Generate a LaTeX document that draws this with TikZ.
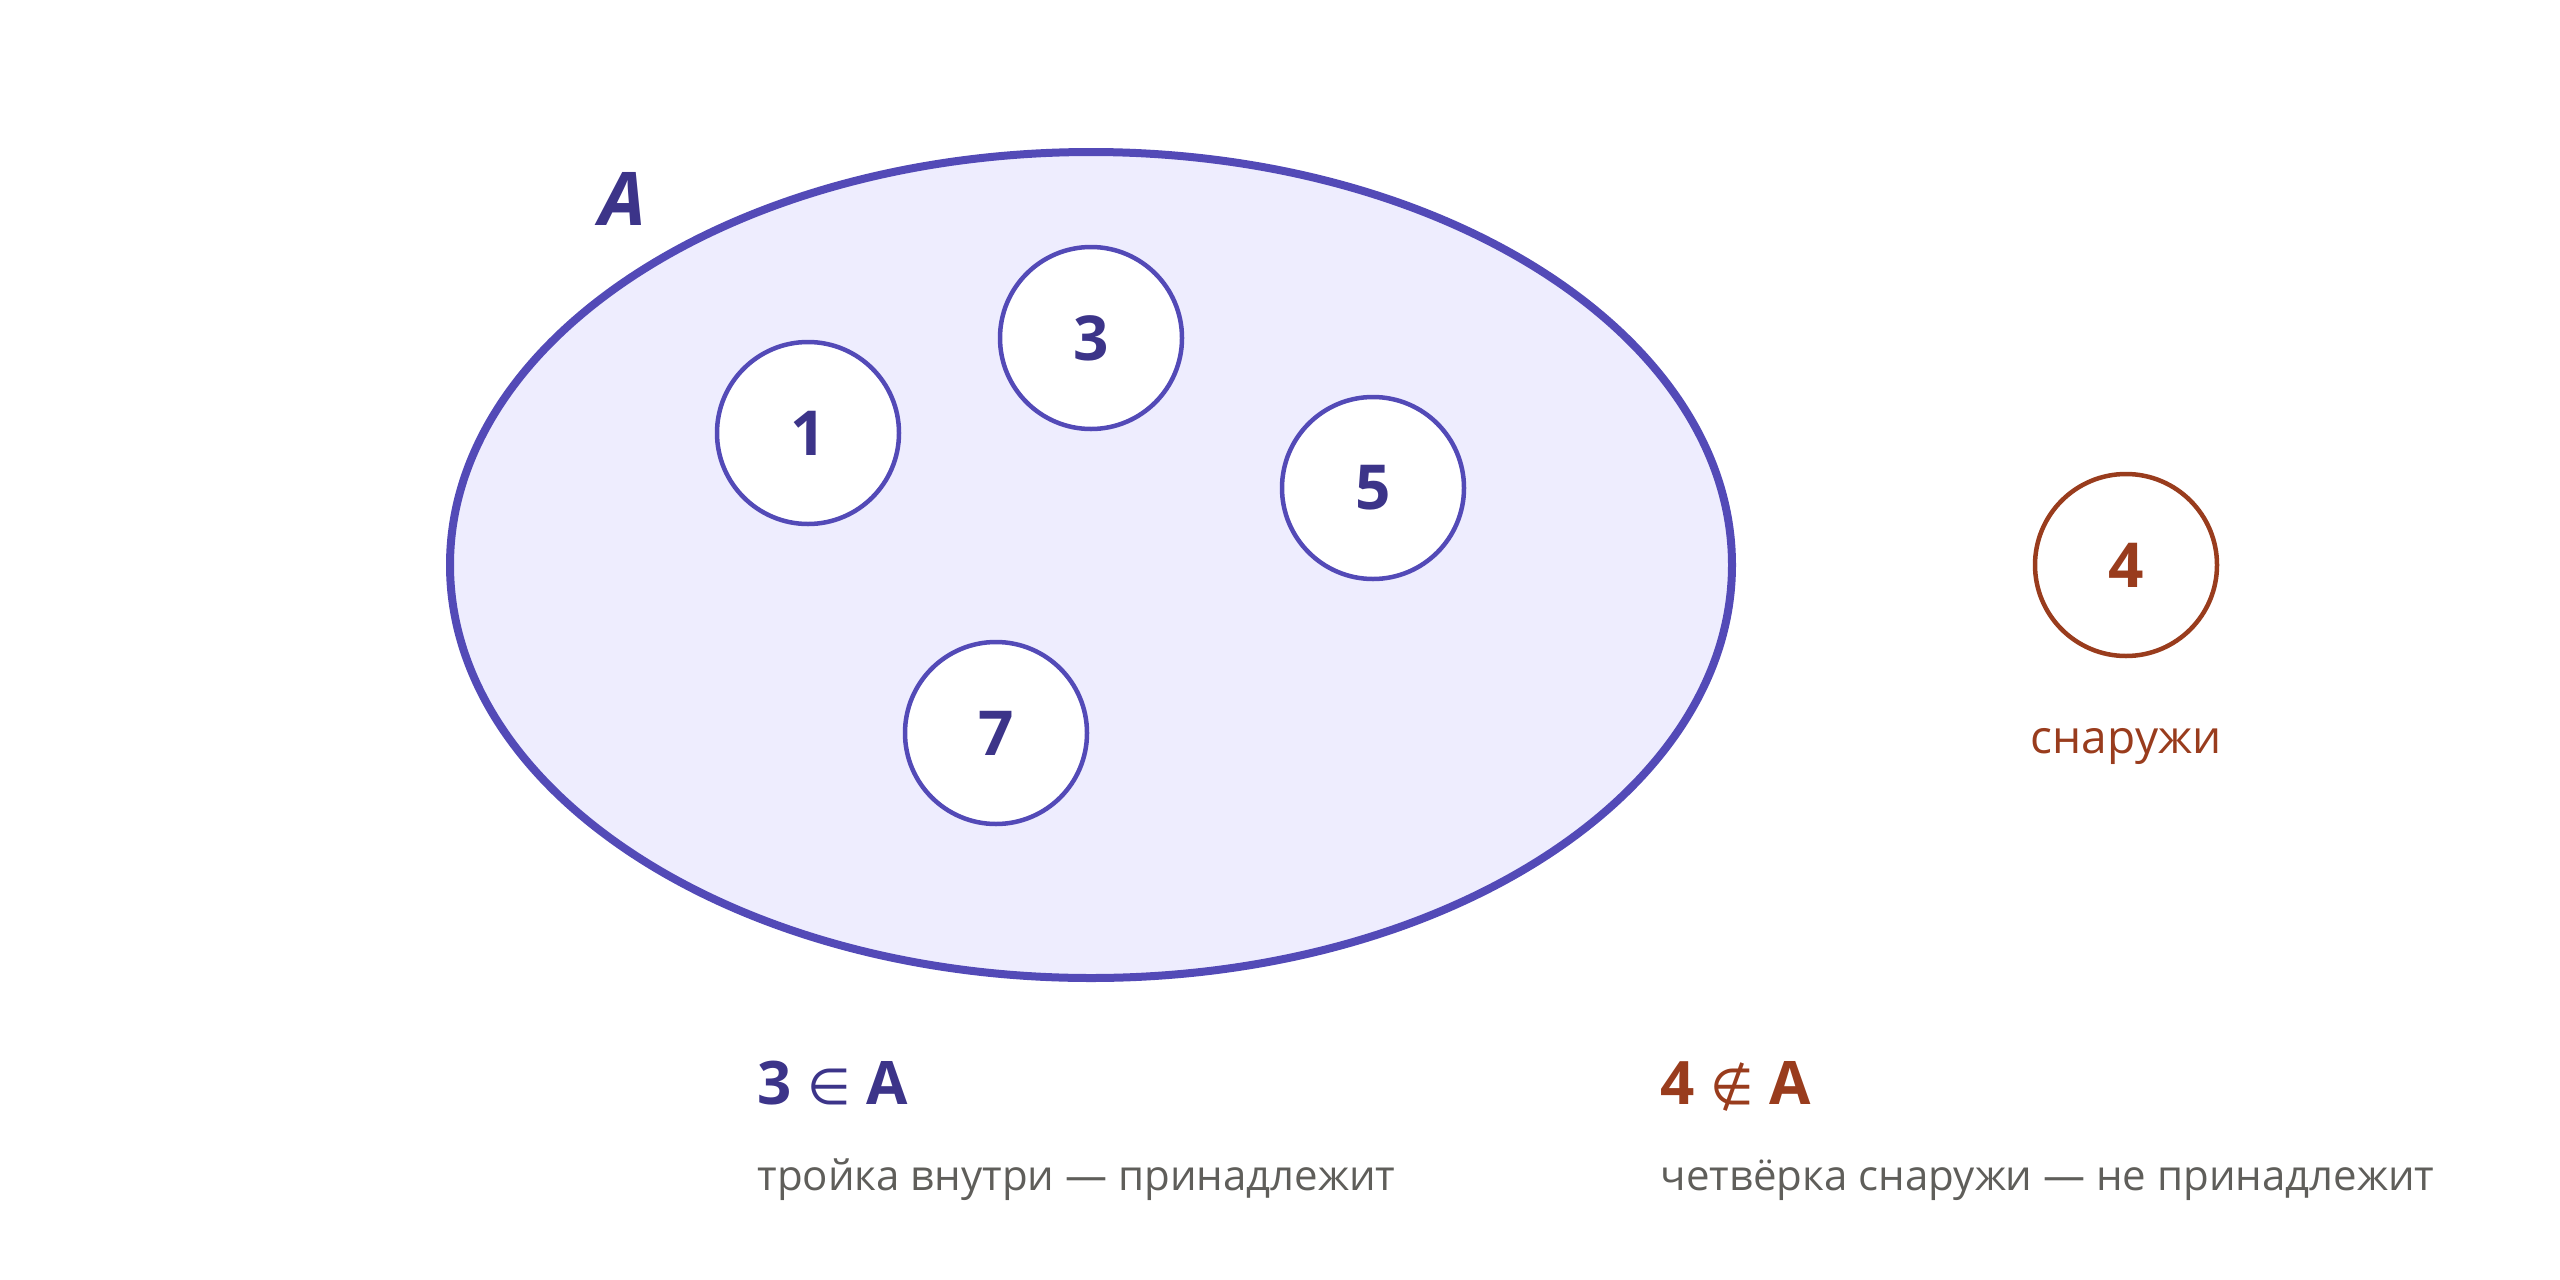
\documentclass[tikz,border=0pt]{standalone}
\usepackage{fontspec}
\setmainfont{Open Sans}
\newfontfamily\symfont{DejaVu Sans}
\usetikzlibrary{shapes.geometric}

\definecolor{setline}{HTML}{534AB7}
\definecolor{setfill}{HTML}{EEEDFE}
\definecolor{setdark}{HTML}{3C3489}
\definecolor{outbrown}{HTML}{993C1D}
\definecolor{notegray}{HTML}{5F5E5A}

\begin{document}
\begin{tikzpicture}[x=1pt, y=-1pt,
    elem/.style={circle, draw=setline, line width=4.5pt, fill=white, minimum size=182pt, inner sep=0pt,
      text=setdark, font=\fontsize{62}{70}\selectfont\bfseries},
    outelem/.style={elem, draw=outbrown, text=outbrown},
    relation/.style={anchor=base west, font=\fontsize{60}{70}\selectfont\bfseries},
    note/.style={anchor=base west, text=notegray, font=\fontsize{42}{50}\selectfont}]

      \useasboundingbox (0,0) rectangle (2560,1280);

      % Define the set
      \node[ellipse, draw=setline, fill=setfill, line width=8pt, minimum width=1282pt, minimum height=826pt] (A) at (1091,565) {};
      \node[text=setdark, font=\fontsize{74}{80}\selectfont\bfseries\itshape] (Alabel) at (623,199) {A};

      % Define elements
      \node[elem] (n1) at (808,433) {1};
      \node[elem] (n3) at (1091,338) {3};
      \node[elem] (n5) at (1373,488) {5};
      \node[elem] (n7) at (996,733) {7};
      \node[outelem] (n4) at (2126,565) {4};
      \node[anchor=base, text=outbrown, font=\fontsize{46}{54}\selectfont] (outside) at (2126,753) {снаружи};

      % Define relations
      \node[relation, text=setdark] (inrel) at (754,1104) {3 {\mdseries\symfont\fontsize{50}{60}\selectfont ∈} A};
      \node[note] (innote) at (754,1190) {тройка внутри — принадлежит};
      \node[relation, text=outbrown] (notinrel) at (1657,1104) {4 {\mdseries\symfont\fontsize{50}{60}\selectfont ∉} A};
      \node[note] (notinnote) at (1657,1190) {четвёрка снаружи — не принадлежит};

    \end{tikzpicture}
\end{document}
